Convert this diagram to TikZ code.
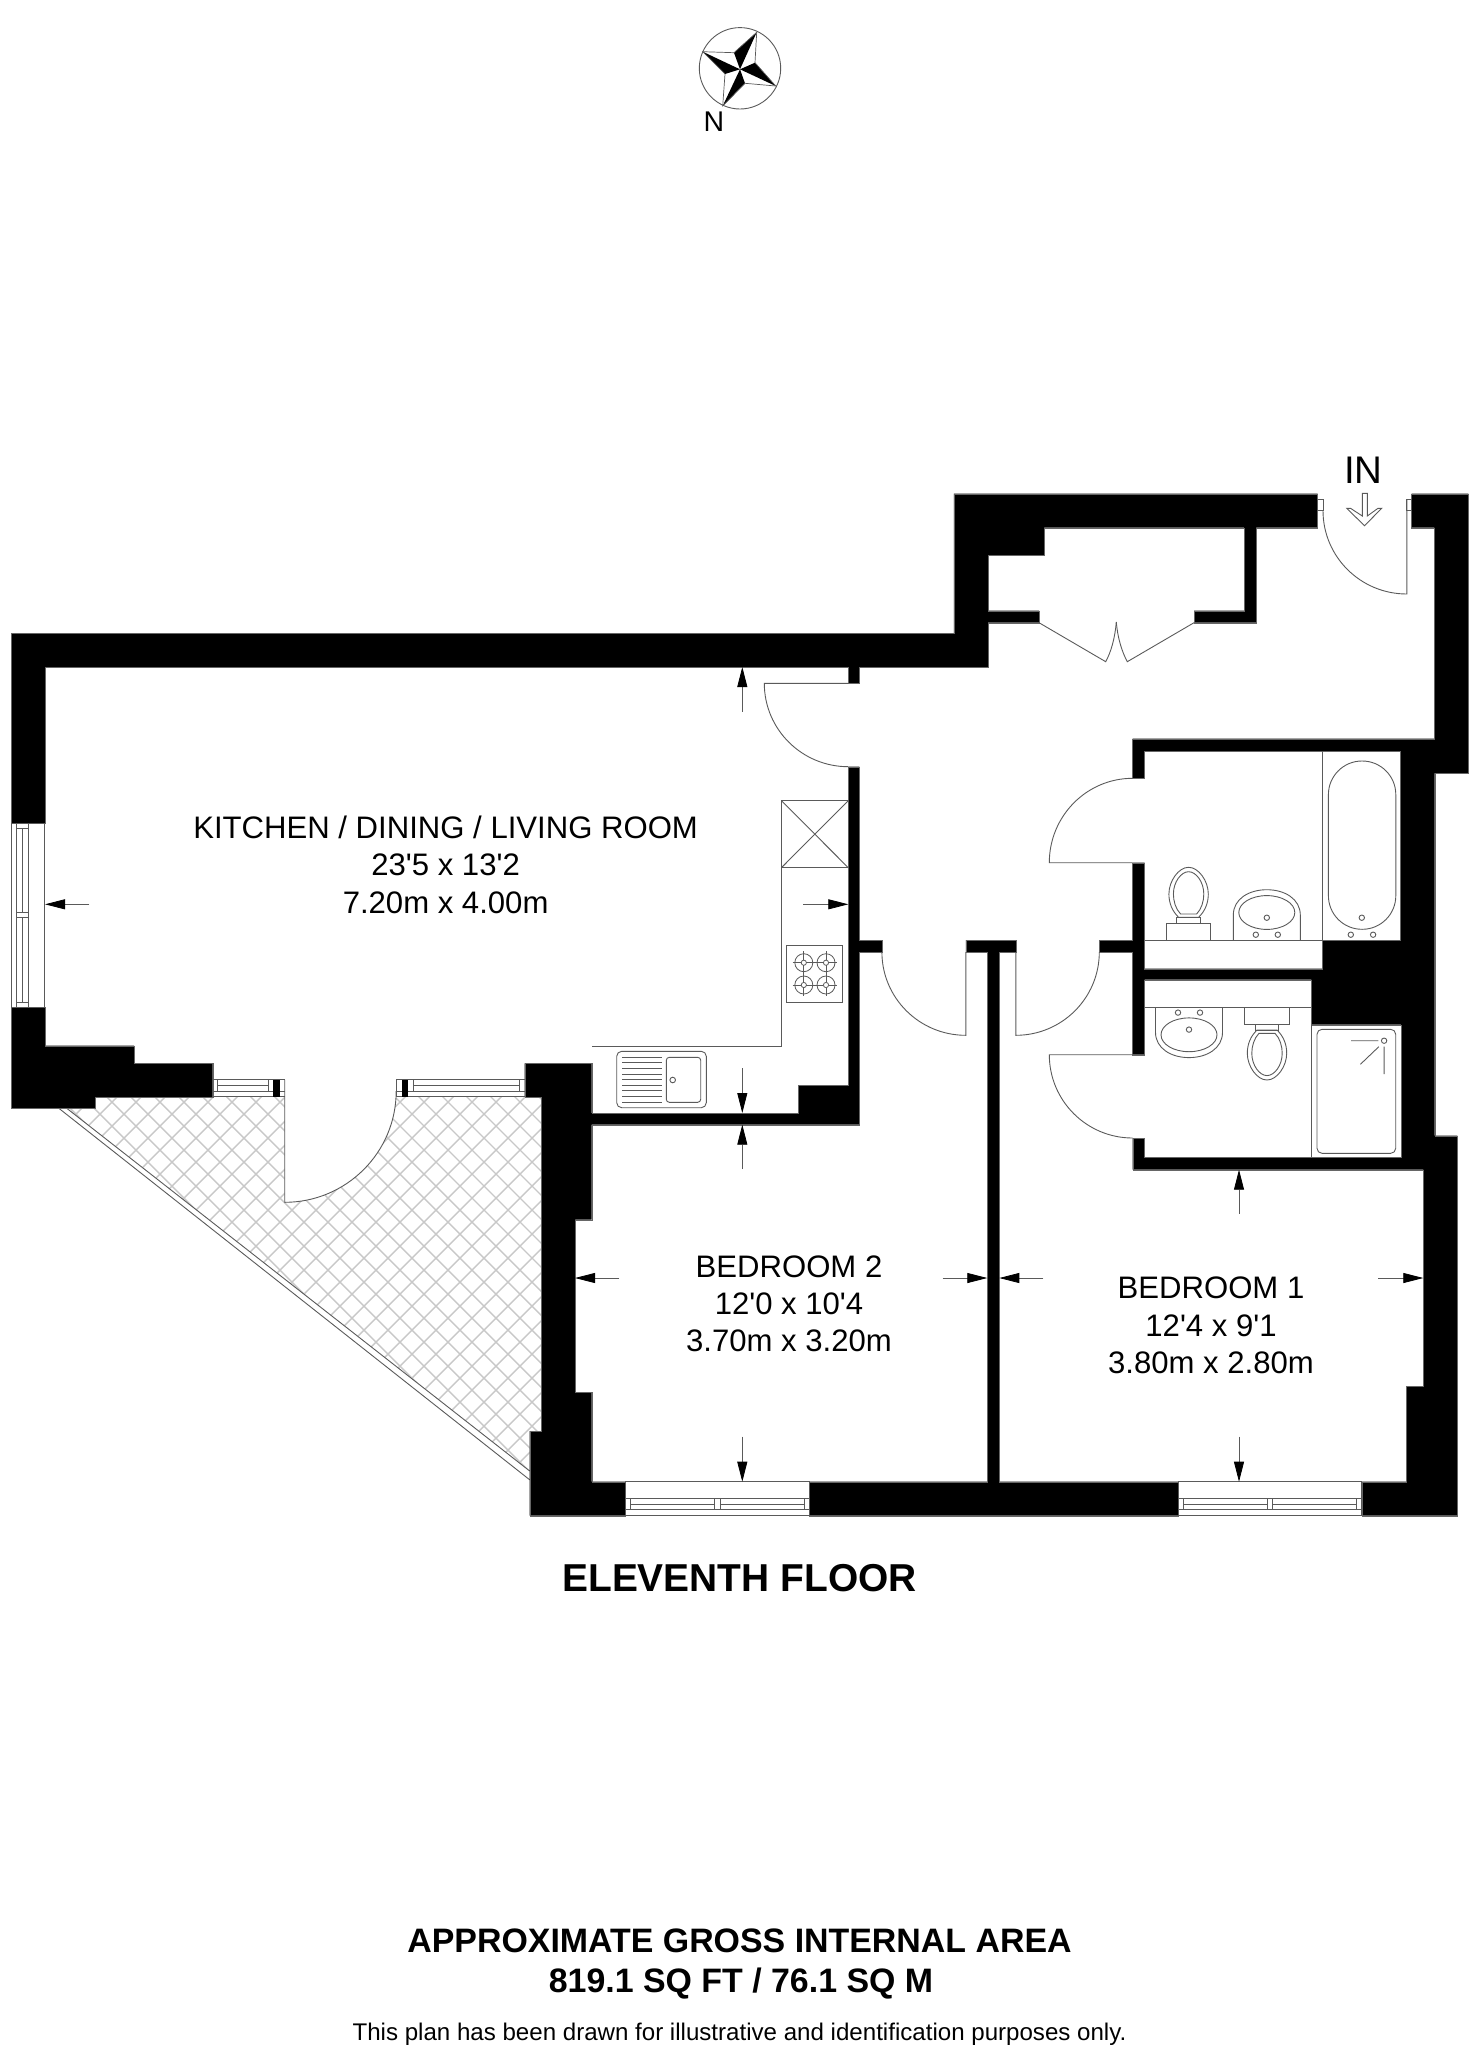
\documentclass[tikz,border=0pt]{standalone}
\usepackage{fontspec}
\setmainfont{Liberation Sans}[Ligatures=TeXOff]
\usetikzlibrary{calc,arrows.meta}
\definecolor{ln}{HTML}{5A5A5A}
\definecolor{hatchc}{HTML}{C8C8C8}
\tikzset{
  thinline/.style={draw=ln,line width=0.9pt},
  wall/.style={fill=black,draw=black!60,line width=0.3pt},
  dimarrow/.style={draw=ln,line width=0.8pt,-{Triangle[length=20pt,width=10pt,fill=black,color=black]}},
  lbl/.style={anchor=base,inner sep=0pt,font=\fontsize{31.1}{36}\selectfont},
  ttl/.style={anchor=base,inner sep=0pt,font=\fontsize{33.9}{38}\selectfont\bfseries},
}
\newcommand{\qarc}[3]{.. controls ($(#1)!0.5523!(#2)$) and ($(#3)!0.5523!(#2)$) .. (#3)}
\newcommand{\bedwin}[2]{%
  \pgfmathsetmacro{\xa}{#1+5}\pgfmathsetmacro{\xb}{#2-5}%
  \pgfmathsetmacro{\xm}{(#1+#2)/2-2.8}\pgfmathsetmacro{\xn}{(#1+#2)/2+2.8}%
  \draw[thinline] (#1,1481.7) rectangle (#2,1515.7);
  \draw[thinline] (#1,1498.3) -- (#2,1498.3) (#1,1509.3) -- (#2,1509.3);
  \draw[thinline] (\xa,1498.3) -- (\xa,1509.3) (\xm,1498.3) -- (\xm,1509.3) (\xn,1498.3) -- (\xn,1509.3) (\xb,1498.3) -- (\xb,1509.3);
  \draw[thinline] (\xa,1504.3) -- (\xm,1504.3) (\xn,1504.3) -- (\xb,1504.3);
}
\newcommand{\toiletfix}{%
  \draw[thinline] (-22.3,0) rectangle (22.3,-16.7);
  \draw[thinline] (-11.7,-16.7) rectangle (11.7,-22.7);
  \draw[thinline] (-10,-22.7) .. controls (-16.5,-29) and (-19.7,-37) .. (-19.7,-46) .. controls (-19.7,-59) and (-10,-72.7) .. (0,-72.7) .. controls (10,-72.7) and (19.7,-59) .. (19.7,-46) .. controls (19.7,-37) and (16.5,-29) .. (10,-22.7) -- cycle;
  \draw[thinline] (-8,-26) .. controls (-13,-31) and (-15.2,-39) .. (-15.2,-46) .. controls (-15.2,-58) and (-7.5,-68.3) .. (0,-68.3) .. controls (7.5,-68.3) and (15.2,-58) .. (15.2,-46) .. controls (15.2,-39) and (13,-31) .. (8,-26) -- cycle;
}
\newcommand{\basinfix}{%
  \draw[thinline] (-33.5,0) -- (-33.5,-25) .. controls (-33.5,-41) and (-18,-50.3) .. (0,-50.3) .. controls (18,-50.3) and (33.5,-41) .. (33.5,-25) -- (33.5,0);
  \draw[thinline] (0,-27.5) ellipse [x radius=28pt,y radius=16.9pt];
  \draw[thinline] (0,-22.3) circle [radius=2.7pt];
  \draw[thinline] (-11,-5.3) circle [radius=2.7pt];
  \draw[thinline] (11,-5.3) circle [radius=2.7pt];
}
\newcommand{\burner}[2]{%
  \draw[draw=ln,line width=0.8pt] (#1,#2) circle [radius=9pt];
  \draw[draw=ln,line width=0.8pt] (#1,#2) circle [radius=2.6pt];
  \draw[draw=ln,line width=0.7pt] ($(#1,#2)+(-11.3,0)$) -- ($(#1,#2)+(-2.6,0)$) ($(#1,#2)+(2.6,0)$) -- ($(#1,#2)+(11.3,0)$) ($(#1,#2)+(0,-11.3)$) -- ($(#1,#2)+(0,-2.6)$) ($(#1,#2)+(0,2.6)$) -- ($(#1,#2)+(0,11.3)$);
}
\begin{document}
\begin{tikzpicture}[x=1pt,y=-1pt]
\useasboundingbox (0,0) rectangle (1479,2048);
% terrace hatching
\begin{scope}
\clip (66.4,1108) -- (95,1108) -- (95,1096.9) -- (284.7,1096.9) -- (284.7,1202.3) \qarc{284.7,1202.3}{396.2,1202.3}{396.2,1091} -- (396.2,1096.9) -- (541.3,1096.9) -- (541.3,1431) -- (529.7,1431) -- (529.7,1471) -- cycle;
\foreach \c in {0,...,40}{
  \pgfmathsetmacro{\aa}{1094+24*\c-1090}\pgfmathsetmacro{\ab}{1094+24*\c-1490}
  \draw[hatchc,line width=1.4pt] (\aa,1090) -- (\ab,1490);
}
\foreach \c in {0,...,22}{
  \pgfmathsetmacro{\aa}{-1062+24*\c+1090}\pgfmathsetmacro{\ab}{-1062+24*\c+1490}
  \draw[hatchc,line width=1.4pt] (\aa,1090) -- (\ab,1490);
}
\end{scope}
\draw[thinline] (58.5,1108) -- (529.7,1479.8);
\draw[thinline] (66.4,1108) -- (529.7,1471);
% walls
\fill[wall] (11,633.3) -- (953.8,633.3) -- (953.8,493.7) -- (1317.5,493.7) -- (1317.5,527.7) -- (1256,527.7) -- (1256,622.7) -- (1194,622.7) -- (1194,610.7) -- (1244,610.7) -- (1244,527.7) -- (1044,527.7) -- (1044,555.3) -- (987.8,555.3) -- (987.8,610.7) -- (1039,610.7) -- (1039,622.7) -- (987.8,622.7) -- (987.8,667) -- (859.4,667) -- (859.4,683.3) -- (848.3,683.3) -- (848.3,667) -- (45,667) -- (45,823.3) -- (11,823.3) -- cycle;
\fill[wall] (11,1007.3) -- (45,1007.3) -- (45,1045.7) -- (134,1045.7) -- (134,1063.3) -- (212.7,1063.3) -- (212.7,1096.9) -- (95,1096.9) -- (95,1108.3) -- (11,1108.3) -- cycle;
\fill[wall] (524.7,1063.3) -- (591.7,1063.3) -- (591.7,1113) -- (798,1113) -- (798,1085) -- (848.3,1085) -- (848.3,766.7) -- (859.4,766.7) -- (859.4,940) -- (881.9,940) -- (881.9,952) -- (859.4,952) -- (859.4,1124.7) -- (591.7,1124.7) -- (591.7,1219.7) -- (575,1219.7) -- (575,1392) -- (591.7,1392) -- (591.7,1481.7) -- (625.3,1481.7) -- (625.3,1515.7) -- (529.7,1515.7) -- (529.7,1431) -- (541.3,1431) -- (541.3,1096.9) -- (524.7,1096.9) -- cycle;
\fill[wall] (809,1481.7) -- (987.3,1481.7) -- (987.3,952) -- (965.8,952) -- (965.8,940) -- (1015.8,940) -- (1015.8,952) -- (999.3,952) -- (999.3,1481.7) -- (1178,1481.7) -- (1178,1515.7) -- (809,1515.7) -- cycle;
\fill[wall] (1411.6,493.7) -- (1468.4,493.7) -- (1468.4,773) -- (1434.7,773) -- (1434.7,1135.7) -- (1457.3,1135.7) -- (1457.3,1515.7) -- (1361.7,1515.7) -- (1361.7,1481.7) -- (1406.3,1481.7) -- (1406.3,1386.3) -- (1423.3,1386.3) -- (1423.3,1169.7) -- (1132.7,1169.7) -- (1132.7,1138) -- (1144.6,1138) -- (1144.6,1157.3) -- (1401,1157.3) -- (1401,1024.7) -- (1311.3,1024.7) -- (1311.3,979.7) -- (1144.6,979.7) -- (1144.6,1054.7) -- (1132.6,1054.7) -- (1132.6,952) -- (1099.3,952) -- (1099.3,940) -- (1132.6,940) -- (1132.6,862.7) -- (1144.6,862.7) -- (1144.6,968.7) -- (1322.6,968.7) -- (1322.6,940) -- (1400.6,940) -- (1400.6,751) -- (1144.6,751) -- (1144.6,778.3) -- (1132.6,778.3) -- (1132.6,738.7) -- (1434.3,738.7) -- (1434.3,527.7) -- (1411.6,527.7) -- cycle;
% windows
\draw[thinline] (11.7,823.3) rectangle (44.6,1007.3);
\draw[thinline] (28.3,823.3) -- (28.3,1007.3) (16.7,823.3) -- (16.7,1007.3);
\draw[thinline] (16.7,828.7) -- (28.3,828.7) (16.7,912.7) -- (28.3,912.7) (16.7,917.3) -- (28.3,917.3) (16.7,1002.3) -- (28.3,1002.3);
\draw[thinline] (22.5,828.7) -- (22.5,912.7) (22.5,917.3) -- (22.5,1002.3);
\bedwin{625.3}{809}
\bedwin{1178}{1361.7}
\draw[thinline] (212.7,1079.9) -- (284.7,1079.9) (212.7,1091) -- (284.7,1091) (212.7,1096.9) -- (284.7,1096.9);
\draw[thinline] (217.5,1085) -- (268.9,1085) (217.5,1079.9) -- (217.5,1091) (268.9,1079.9) -- (268.9,1091);
\fill[black] (272.8,1079.9) rectangle (279.6,1096.9);
\draw[thinline] (396.2,1079.9) -- (524.7,1079.9) (396.2,1091) -- (524.7,1091) (396.2,1096.9) -- (524.7,1096.9);
\draw[thinline] (413.2,1085) -- (519.6,1085) (413.2,1079.9) -- (413.2,1091) (519.6,1079.9) -- (519.6,1091) (396.2,1079.9) -- (396.2,1096.9);
\fill[black] (401.7,1079.9) rectangle (407.7,1096.9);
% doors
\draw[thinline] (284.7,1079.9) -- (284.7,1202.3) \qarc{284.7,1202.3}{396.2,1202.3}{396.2,1091};
\draw[thinline] (848.3,683.3) -- (764.3,683.3) \qarc{764.3,683.3}{764.3,766.7}{848.3,766.7};
\draw[thinline] (1039,622.7) -- (1105.7,661.7) .. controls (1111,652) and (1115,638) .. (1116.3,622);
\draw[thinline] (1194,622.7) -- (1127.3,661.7) .. controls (1122,652) and (1117.6,638) .. (1116.3,622);
\draw[thinline] (1317.5,499) rectangle (1323,510.7);
\draw[thinline] (1406.8,499) rectangle (1411.6,510.7);
\draw[thinline] (1406.8,499) -- (1406.8,594) \qarc{1406.8,594}{1323,594}{1323,510.7};
\draw[thinline] (1132.6,862.7) -- (1049.3,862.7) \qarc{1049.3,862.7}{1049.3,778.3}{1132.6,778.3};
\draw[thinline] (1132.6,1054.7) -- (1049.3,1054.7) \qarc{1049.3,1054.7}{1049.3,1138}{1132.6,1138};
\draw[thinline] (965.8,952) -- (965.8,1035.3) \qarc{965.8,1035.3}{881.9,1035.3}{881.9,952};
\draw[thinline] (1015.8,952) -- (1015.8,1035.3) \qarc{1015.8,1035.3}{1099.3,1035.3}{1099.3,952};
% entrance arrow
\draw[thinline] (1362.3,493.3) -- (1367.3,493.3) -- (1367.3,516) -- (1378,508.3) -- (1381.7,508.3) -- (1364.5,525.7) -- (1346.7,508.3) -- (1350.5,508.3) -- (1362.3,516) -- cycle;
% bathroom fixtures
\draw[thinline] (1144.6,940) -- (1322.6,940) (1322.6,751) -- (1322.6,940);
\draw[thinline] (1144.6,1007.3) -- (1311.3,1007.3) (1311.3,1024.7) -- (1311.3,1157.3);
\draw[thinline,rounded corners=33.6pt] (1328.4,761) rectangle (1395.8,929.3);
\draw[thinline] (1361.8,917.7) circle [radius=2.7pt];
\draw[thinline] (1350.8,934.7) circle [radius=2.7pt];
\draw[thinline] (1373.1,934.7) circle [radius=2.7pt];
\begin{scope}[shift={(1188.6,940)}]\toiletfix\end{scope}
\begin{scope}[shift={(1266.8,940)}]\basinfix\end{scope}
\begin{scope}[shift={(1189,1007.3)},yscale=-1]\basinfix\end{scope}
\begin{scope}[shift={(1267,1007.3)},yscale=-1]\toiletfix\end{scope}
\draw[thinline,rounded corners=5pt] (1317,1029.3) rectangle (1395.7,1153.3);
\draw[thinline] (1384.1,1040.7) circle [radius=2.7pt];
\draw[thinline] (1351,1040.7) -- (1378.3,1040.7) (1378.8,1046.7) -- (1360.4,1064.3) (1384.1,1046.7) -- (1384.1,1074);
% kitchen
\draw[thinline] (781.4,800.7) rectangle (848.3,867.7);
\draw[thinline] (781.4,800.7) -- (848.3,867.7) (848.3,800.7) -- (781.4,867.7);
\draw[thinline] (781.4,867.7) -- (781.4,1046) -- (591.7,1046);
\draw[thinline] (786.3,945.7) rectangle (842.6,1002);
\burner{803.8}{962.7}
\burner{826}{962.7}
\burner{803.8}{985}
\burner{826}{985}
\draw[thinline,rounded corners=5pt] (616.7,1051.3) rectangle (706.3,1107.7);
\draw[thinline,rounded corners=3pt] (666.3,1057.3) rectangle (700.7,1102.3);
\draw[thinline] (672.7,1080) circle [radius=2.8pt];
\foreach \yy in {1057.3,1062.9,1068.5,1074.1,1079.7,1085.3,1090.9,1096.5,1102.1}{\draw[thinline] (622,\yy) -- (661.7,\yy);}
% dimension arrows
\draw[dimarrow] (742.3,711.7) -- (742.3,667);
\draw[dimarrow] (89.3,904.3) -- (45,904.3);
\draw[dimarrow] (803.3,904.3) -- (848.3,904.3);
\draw[dimarrow] (742.3,1068.3) -- (742.3,1113);
\draw[dimarrow] (742.3,1169) -- (742.3,1124.7);
\draw[dimarrow] (619.3,1278) -- (575,1278);
\draw[dimarrow] (942.7,1278) -- (987.3,1278);
\draw[dimarrow] (742.3,1436.7) -- (742.3,1481.7);
\draw[dimarrow] (1239,1213.7) -- (1239,1169.7);
\draw[dimarrow] (1043.3,1278) -- (999.3,1278);
\draw[dimarrow] (1378.3,1278) -- (1423.3,1278);
\draw[dimarrow] (1239,1436.7) -- (1239,1481.7);
% compass
\draw[thinline] (740,68.3) circle [radius=40.7pt];
\fill[black] (756.7,32.3) -- (734,52.7) -- (740,69.3) -- cycle;
\fill[black] (702.7,51.7) -- (725,74) -- (740,69.3) -- cycle;
\fill[black] (775.7,86) -- (755,62.7) -- (740,69.3) -- cycle;
\fill[black] (722.7,106) -- (745,83.3) -- (740,69.3) -- cycle;
\draw[thinline,line width=0.7pt] (756.7,32.3) -- (755,62.7) -- (775.7,86) -- (745,83.3) -- (722.7,106) -- (725,74) -- (702.7,51.7) -- (734,52.7) -- cycle;
\node[anchor=base,inner sep=0pt,font=\fontsize{28.5}{32}\selectfont] (north) at (714,131) {N};
\node[anchor=base,inner sep=0pt,font=\fontsize{38.5}{46}\selectfont] (inlabel) at (1363.5,483.3) {IN};
% labels
\node[lbl] (k1) at (445.6,838.3) {KITCHEN / DINING / LIVING ROOM};
\node[lbl] (k2) at (445.6,875.7) {23'5 x 13'2};
\node[lbl] (k3) at (445.6,913.3) {7.20m x 4.00m};
\node[lbl] (b21) at (789,1277) {BEDROOM 2};
\node[lbl] (b22) at (789,1314.3) {12'0 x 10'4};
\node[lbl] (b23) at (789,1351.7) {3.70m x 3.20m};
\node[lbl] (b11) at (1211,1298.7) {BEDROOM 1};
\node[lbl] (b12) at (1211,1336) {12'4 x 9'1};
\node[lbl] (b13) at (1211,1373.3) {3.80m x 2.80m};
\node[anchor=base,inner sep=0pt,font=\fontsize{38.9}{46}\selectfont\bfseries] (floor) at (739.5,1591.7) {ELEVENTH FLOOR};
\node[ttl] (a1) at (739.5,1952.3) {APPROXIMATE GROSS INTERNAL AREA};
\node[ttl] (a2) at (741,1992.3) {819.1 SQ FT / 76.1 SQ M};
\node[anchor=base,inner sep=0pt,font=\fontsize{24.1}{28}\selectfont] (a3) at (739.5,2040) {This plan has been drawn for illustrative and identification purposes only.};
\end{tikzpicture}
\end{document}
